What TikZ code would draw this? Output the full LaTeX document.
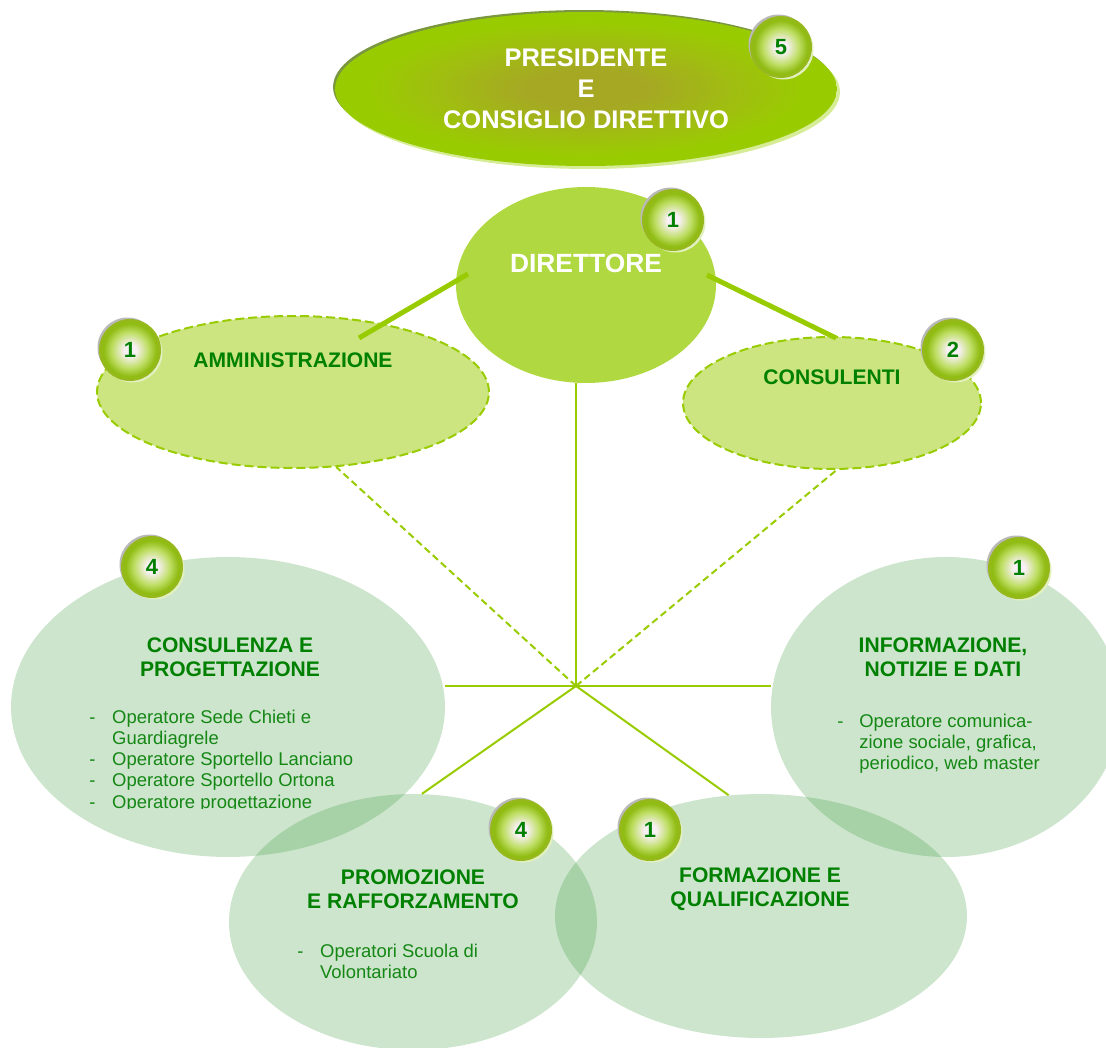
\documentclass[tikz,border=0pt]{standalone}
\usepackage{fontspec}
\setmainfont{Liberation Sans}
\usetikzlibrary{shapes.geometric,shadows,calc}

\definecolor{lineclr}{RGB}{153,204,0}
\definecolor{dirclr}{RGB}{176,216,64}
\definecolor{sideclr}{RGB}{204,229,128}
\definecolor{areaclr}{RGB}{55,151,55}
\definecolor{headclr}{RGB}{0,128,0}
\definecolor{itemclr}{RGB}{20,135,20}
\definecolor{presin}{RGB}{166,168,36}
\definecolor{presmid}{RGB}{160,190,16}
\definecolor{presdark}{RGB}{122,150,64}
\definecolor{presrim}{RGB}{214,236,150}
\definecolor{ballin}{RGB}{248,240,244}
\definecolor{ballmid}{RGB}{190,222,100}
\definecolor{ballout}{RGB}{145,188,20}
\definecolor{ballring}{RGB}{150,184,30}
\definecolor{ballrim}{RGB}{225,240,190}

\pgfdeclareradialshading{presball}{\pgfpoint{0bp}{0bp}}{color(0bp)=(presin); color(6bp)=(presin); color(15bp)=(presmid); color(22bp)=(lineclr); color(50bp)=(lineclr)}
\pgfdeclareradialshading{badgeball}{\pgfpoint{0bp}{0bp}}{color(0bp)=(ballin); color(5bp)=(ballin); color(15bp)=(ballmid); color(22bp)=(ballout); color(50bp)=(ballout)}

\tikzset{
  area/.style={ellipse, inner sep=0, fill=areaclr, fill opacity=0.25},
  side/.style={ellipse, inner sep=0, fill=sideclr, draw=lineclr, line width=0.04cm, dash pattern=on 0.18cm off 0.08cm},
  head/.style={anchor=base, align=center, inner sep=0, text=headclr, font=\bfseries\fontsize{12}{13.6}\selectfont},
  items/.style={anchor=base west, inner sep=0, text=itemclr, font=\fontsize{10.5}{12.1}\selectfont},
  badge/.style={circle, minimum size=1.2cm, inner sep=0, shade, shading=badgeball, draw=ballring, line width=0.04cm,
    text=headclr, font=\bfseries\fontsize{12.5}{12.5}\selectfont,
    general shadow={fill=gray!55, shadow xshift=-0.05cm, shadow yshift=0.05cm},
    general shadow={fill=ballrim, shadow xshift=0.05cm, shadow yshift=-0.05cm}},
  spoke/.style={draw=lineclr, line width=0.04cm},
  link/.style={draw=lineclr, line width=0.1cm}
}

\begin{document}
\begin{tikzpicture}[x=0.02cm, y=-0.02cm]
  \useasboundingbox (0,0) rectangle (1106,1048);
  % presidente
  \node[ellipse, minimum width=10.04cm, minimum height=3.08cm, inner sep=0, shade, shading=presball,
    general shadow={fill=presdark, shadow xshift=-0.04cm, shadow yshift=0.04cm},
    general shadow={fill=presrim, shadow xshift=0.06cm, shadow yshift=-0.06cm}] (pres) at (586,89) {};
  \node[anchor=base, align=center, inner sep=0, text=white, font=\bfseries\fontsize{14.5}{17.6}\selectfont] (tpres) at (586,128) {PRESIDENTE\\E\\CONSIGLIO DIRETTIVO};
  % direttore and staff
  \node[ellipse, minimum width=5.2cm, minimum height=3.92cm, inner sep=0, fill=dirclr] (dir) at (586,285) {};
  \node[anchor=base, inner sep=0, text=white, font=\bfseries\fontsize{15}{18}\selectfont] (tdir) at (586,272) {DIRETTORE};
  \node[side, minimum width=7.84cm, minimum height=3.04cm] (ammin) at (293,392) {};
  \node[side, minimum width=5.96cm, minimum height=2.64cm] (consu) at (832,403) {};
  \node[head] (tammin) at (293,367) {AMMINISTRAZIONE};
  \node[head] (tconsu) at (832,384) {CONSULENTI};
  % areas
  \node[area, minimum width=8.68cm, minimum height=6cm] (cprog) at (228,707) {};
  \node[area, minimum width=7cm, minimum height=6cm] (info) at (946,707) {};
  \node[area, minimum width=7.36cm, minimum height=5.12cm] (prom) at (413,922) {};
  \node[area, minimum width=8.24cm, minimum height=4.88cm] (form) at (761,916) {};
  % spokes
  \coordinate (hub) at (576,686);
  \draw[spoke] (hub) -- (hub |- dir.south);
  \draw[spoke, dash pattern=on 0.14cm off 0.08cm] (hub) -- (ammin.-60);
  \draw[spoke, dash pattern=on 0.14cm off 0.08cm] (hub) -- (consu.-86);
  \draw[spoke] (hub) -- (hub -| cprog.east);
  \draw[spoke] (hub) -- (hub -| info.west);
  \draw[spoke] (hub) -- (prom.86);
  \draw[spoke] (hub) -- (form.105);
  \draw[link] ($(dir.center)+(-118,-11)$) -- ($(ammin.center)+(66,-54)$);
  \draw[link] ($(dir.center)+(121,-10)$) -- ($(consu.center)+(4,-65)$);
  % area texts (base = last line)
  \node[head] (tcprog) at (230,676) {CONSULENZA E\\PROGETTAZIONE};
  \node[head] (tinfo) at (943,676) {INFORMAZIONE,\\NOTIZIE E DATI};
  \node[head] (tprom) at (413,908) {PROMOZIONE\\E RAFFORZAMENTO};
  \node[head] (tform) at (760,906) {FORMAZIONE E\\QUALIFICAZIONE};
  \begin{scope}
    \clip (80,690) rectangle (440,808);
    \node[items] (lcprog) at (89,723) {\begin{tabular}[t]{@{}p{13pt}@{}l@{}}-&Operatore Sede Chieti e\\ &Guardiagrele\\-&Operatore Sportello Lanciano\\-&Operatore Sportello Ortona\\-&Operatore progettazione\end{tabular}};
  \end{scope}
  \node[items] (linfo) at (837,727) {\begin{tabular}[t]{@{}p{12.5pt}@{}l@{}}-&Operatore comunica-\\ &zione sociale, grafica,\\ &periodico, web master\end{tabular}};
  \node[items] (lprom) at (297,957) {\begin{tabular}[t]{@{}p{13pt}@{}l@{}}-&Operatori Scuola di\\ &Volontariato\end{tabular}};
  % badges
  \node[badge] (b5pres) at (781,47) {5};
  \node[badge] (b1dir) at (673,220) {1};
  \node[badge] (b1amm) at (130,350) {1};
  \node[badge] (b2con) at (953,350) {2};
  \node[badge] (b4cpr) at (152,567) {4};
  \node[badge] (b1inf) at (1019,568) {1};
  \node[badge] (b4pro) at (521,830) {4};
  \node[badge] (b1for) at (650,830) {1};
\end{tikzpicture}
\end{document}
